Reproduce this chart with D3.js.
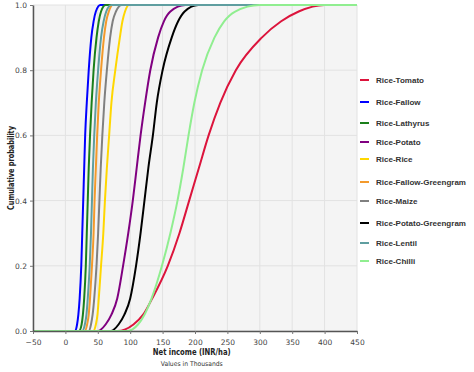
<!DOCTYPE html>
<html>
<head>
<meta charset="utf-8">
<script src="https://cdn.jsdelivr.net/npm/d3@7"></script>
<style>
  body { margin: 0; background: #fff; }
</style>
</head>
<body>
<script>
// cumulative probability levels the quantiles were read at
var probs = [0, 0.02, 0.05, 0.1, 0.2, 0.3, 0.4, 0.5, 0.6, 0.7, 0.8, 0.9, 0.95, 0.98, 1];

// net income (thousand INR/ha) at each probability level
var riceTomato = [80, 105, 120, 134, 158, 176, 191, 206, 221, 239, 263, 303, 333, 360, 400];
var riceFallow = [15, 18, 20, 22, 24.5, 26, 27.5, 29, 30.5, 33, 36, 40, 43.5, 47, 54];
var riceLathyrus = [21, 25, 27, 29, 31.5, 33, 34.5, 36, 38, 40.5, 43.5, 48, 51.5, 55, 62];
var ricePotato = [50, 62, 71, 80, 89, 97, 104, 110, 116, 123, 131, 143, 152, 162, 185];
var riceRice = [43, 47, 49.5, 51.5, 55, 58.5, 61, 64, 67.5, 71, 77, 84, 88, 92, 98];
var riceFallowGreengram = [30, 33.5, 36, 38, 41, 43.5, 45, 47, 49, 51.5, 55, 59.5, 63, 67, 73];
var riceMaize = [36, 39.5, 42, 44.5, 48, 50.5, 52.5, 54.5, 57, 60, 64, 69, 73, 78, 87];
var ricePotatoGreengram = [70, 82, 91, 100, 109, 116, 122, 128, 135, 141, 150, 164, 174, 184, 205];
var riceLentil = [26, 30, 32.5, 34.5, 37.5, 39.5, 41, 42.5, 44.5, 47, 50.5, 55, 59, 63, 71];
var riceChilli = [95, 112, 122, 133, 149, 162, 173, 182, 190, 199, 211, 230, 245, 262, 300];

var seriesNames = ["Rice-Tomato", "Rice-Fallow", "Rice-Lathyrus", "Rice-Potato", "Rice-Rice",
  "Rice-Fallow-Greengram", "Rice-Maize", "Rice-Potato-Greengram", "Rice-Lentil", "Rice-Chilli"];
var seriesValues = [riceTomato, riceFallow, riceLathyrus, ricePotato, riceRice,
  riceFallowGreengram, riceMaize, ricePotatoGreengram, riceLentil, riceChilli];
var colors = ["#dc143c", "#0000ff", "#1a7f1a", "#800080", "#ffd700",
  "#f39a2c", "#808080", "#000000", "#5f9ea0", "#90ee90"];

var xTicks = [-50, 0, 50, 100, 150, 200, 250, 300, 350, 400, 450];
var yTicks = [0, 0.2, 0.4, 0.6, 0.8, 1.0];

var W = 474, H = 372;
var margin = { top: 5, left: 33, bottom: 41, right: 117 };
var width = W - margin.left - margin.right;
var height = H - margin.top - margin.bottom;

var x = d3.scaleLinear().domain([-50, 450]).range([0, width]);
var y = d3.scaleLinear().domain([0, 1]).range([height, 0]);

var svg = d3.select("body").append("svg")
  .attr("width", W)
  .attr("height", H);

// squeeze a text to a max width (the original uses a narrow font)
function fit(sel, maxW) {
  sel.each(function () {
    var w = this.getComputedTextLength();
    if (w > maxW) {
      d3.select(this).attr("textLength", maxW).attr("lengthAdjust", "spacingAndGlyphs");
    }
  });
}

var chart = svg.append("g")
  .attr("transform", `translate(${margin.left},${margin.top})`);

// plot background
chart.append("rect")
  .attr("width", width)
  .attr("height", height)
  .attr("fill", "#f4f4f4");

// grid lines
chart.append("g")
  .selectAll("line")
  .data(xTicks)
  .join("line")
  .attr("x1", d => x(d)).attr("x2", d => x(d))
  .attr("y1", 0).attr("y2", height)
  .attr("stroke", "#e2e2e2");
chart.append("g")
  .selectAll("line")
  .data(yTicks)
  .join("line")
  .attr("x1", 0).attr("x2", width)
  .attr("y1", d => y(d)).attr("y2", d => y(d))
  .attr("stroke", "#e2e2e2");

// the curves, extended flat to the ends of the x range
var line = d3.line()
  .x(d => x(d[0]))
  .y(d => y(d[1]))
  .curve(d3.curveMonotoneX);

var curves = seriesValues.map((vals, i) => {
  var pts = vals.map((v, j) => [v, probs[j]]);
  return { name: seriesNames[i], color: colors[i],
    pts: [[-50, 0]].concat(pts, [[450, 1]]) };
});

chart.selectAll(".curve")
  .data(curves)
  .join("path")
  .attr("class", "curve")
  .attr("fill", "none")
  .attr("stroke", d => d.color)
  .attr("stroke-width", 2)
  .attr("d", d => line(d.pts));

// axes
var xAxis = chart.append("g")
  .attr("transform", `translate(0,${height})`)
  .call(d3.axisBottom(x).tickValues(xTicks).tickSize(3).tickSizeOuter(0));
var yAxis = chart.append("g")
  .call(d3.axisLeft(y).tickValues(yTicks).tickFormat(d3.format(".1f")).tickSize(3).tickSizeOuter(0));

[xAxis, yAxis].forEach(a => {
  a.select(".domain").attr("stroke", "#555").attr("stroke-width", 1.5);
  a.selectAll(".tick line").attr("stroke", "#777");
  a.selectAll(".tick text")
    .attr("fill", "#444")
    .style("font-family", "DejaVu Sans, sans-serif")
    .style("font-size", "7.5px");
});
xAxis.selectAll(".tick text").attr("dy", "1.1em");

// axis titles
svg.append("text")
  .attr("x", margin.left + x(195))
  .attr("y", 355)
  .attr("text-anchor", "middle")
  .style("font-family", "DejaVu Sans, sans-serif")
  .style("font-weight", "bold")
  .style("font-size", "9px")
  .attr("fill", "#222")
  .text("Net income (INR/ha)")
  .call(fit, 78);

svg.append("text")
  .attr("x", margin.left + x(195))
  .attr("y", 366)
  .attr("text-anchor", "middle")
  .style("font-family", "DejaVu Sans, sans-serif")
  .style("font-size", "6.5px")
  .attr("fill", "#333")
  .text("Values in Thousands")
  .call(fit, 62);

svg.append("text")
  .attr("transform", `translate(14,${margin.top + y(0.5)}) rotate(-90)`)
  .attr("text-anchor", "middle")
  .style("font-family", "DejaVu Sans, sans-serif")
  .style("font-weight", "bold")
  .style("font-size", "8.5px")
  .attr("fill", "#222")
  .text("Cumulative probability")
  .call(fit, 84);

// legend
var legendY = [80, 102, 123, 142, 159, 182, 201, 223, 243, 261];
var legend = svg.append("g")
  .selectAll("g")
  .data(curves)
  .join("g")
  .attr("transform", (d, i) => `translate(360,${legendY[i]})`);

legend.append("line")
  .attr("x1", 0).attr("x2", 9)
  .attr("stroke", d => d.color)
  .attr("stroke-width", 2);

var legendText = legend.append("text")
  .attr("x", 16)
  .attr("dy", "0.35em")
  .style("font-family", "'Liberation Sans Narrow', 'Liberation Sans', Arial, sans-serif")
  .style("font-weight", "bold")
  .style("font-size", "10px")
  .attr("fill", "#333")
  .text(d => d.name);

// shrink the font if the longest name would run past the edge
var longest = d3.max(legendText.nodes(), n => n.getComputedTextLength());
if (longest > 90) {
  legendText.style("font-size", (10 * 90 / longest).toFixed(2) + "px");
}
</script>
</body>
</html>
